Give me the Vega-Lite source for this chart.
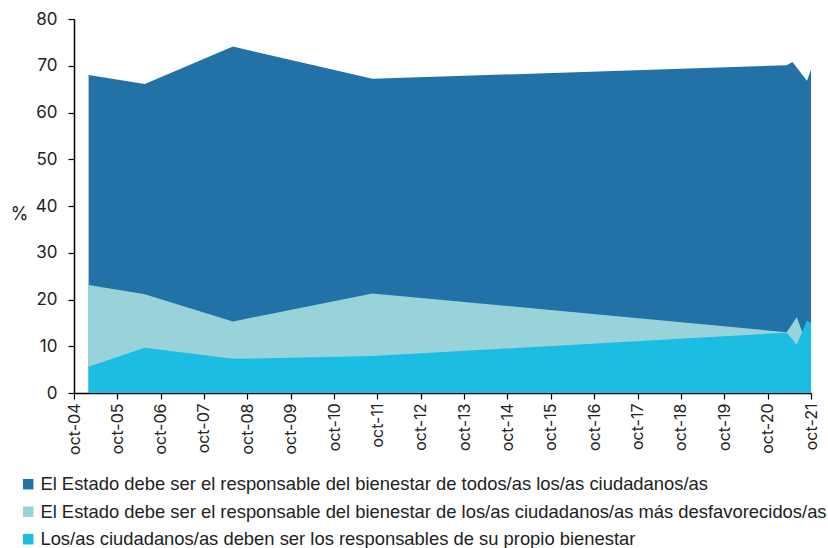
{
  "$schema": "https://vega.github.io/schema/vega-lite/v6.json",
  "width": 737,
  "height": 374,
  "autosize": {"type": "none"},
  "padding": {"left": 74, "top": 19, "right": 17, "bottom": 155},
  "config": {"view": {"stroke": null}, "font": "Inter", "background": "white"},
  "data": {
    "values": [
      {"serie": "El Estado debe ser el responsable del bienestar de todos/as los/as ciudadanos/as", "fecha": "2005-02-01", "valor": 68.0},
      {"serie": "El Estado debe ser el responsable del bienestar de todos/as los/as ciudadanos/as", "fecha": "2006-05-20", "valor": 66.1},
      {"serie": "El Estado debe ser el responsable del bienestar de todos/as los/as ciudadanos/as", "fecha": "2008-06-01", "valor": 74.1},
      {"serie": "El Estado debe ser el responsable del bienestar de todos/as los/as ciudadanos/as", "fecha": "2011-08-20", "valor": 67.2},
      {"serie": "El Estado debe ser el responsable del bienestar de todos/as los/as ciudadanos/as", "fecha": "2021-03-10", "valor": 70.1},
      {"serie": "El Estado debe ser el responsable del bienestar de todos/as los/as ciudadanos/as", "fecha": "2021-04-28", "valor": 70.8},
      {"serie": "El Estado debe ser el responsable del bienestar de todos/as los/as ciudadanos/as", "fecha": "2021-08-28", "valor": 66.8},
      {"serie": "El Estado debe ser el responsable del bienestar de todos/as los/as ciudadanos/as", "fecha": "2021-10-01", "valor": 69.2},
      {"serie": "El Estado debe ser el responsable del bienestar de los/as ciudadanos/as más desfavorecidos/as", "fecha": "2005-02-01", "valor": 23.1},
      {"serie": "El Estado debe ser el responsable del bienestar de los/as ciudadanos/as más desfavorecidos/as", "fecha": "2006-05-20", "valor": 21.1},
      {"serie": "El Estado debe ser el responsable del bienestar de los/as ciudadanos/as más desfavorecidos/as", "fecha": "2008-06-01", "valor": 15.3},
      {"serie": "El Estado debe ser el responsable del bienestar de los/as ciudadanos/as más desfavorecidos/as", "fecha": "2011-08-20", "valor": 21.3},
      {"serie": "El Estado debe ser el responsable del bienestar de los/as ciudadanos/as más desfavorecidos/as", "fecha": "2021-03-10", "valor": 13.0},
      {"serie": "El Estado debe ser el responsable del bienestar de los/as ciudadanos/as más desfavorecidos/as", "fecha": "2021-06-03", "valor": 16.2},
      {"serie": "El Estado debe ser el responsable del bienestar de los/as ciudadanos/as más desfavorecidos/as", "fecha": "2021-08-28", "valor": 10.3},
      {"serie": "El Estado debe ser el responsable del bienestar de los/as ciudadanos/as más desfavorecidos/as", "fecha": "2021-10-01", "valor": 11.0},
      {"serie": "Los/as ciudadanos/as deben ser los responsables de su propio bienestar", "fecha": "2005-02-01", "valor": 5.6},
      {"serie": "Los/as ciudadanos/as deben ser los responsables de su propio bienestar", "fecha": "2006-05-20", "valor": 9.7},
      {"serie": "Los/as ciudadanos/as deben ser los responsables de su propio bienestar", "fecha": "2008-06-01", "valor": 7.3},
      {"serie": "Los/as ciudadanos/as deben ser los responsables de su propio bienestar", "fecha": "2011-08-20", "valor": 7.9},
      {"serie": "Los/as ciudadanos/as deben ser los responsables de su propio bienestar", "fecha": "2021-03-10", "valor": 12.9},
      {"serie": "Los/as ciudadanos/as deben ser los responsables de su propio bienestar", "fecha": "2021-06-03", "valor": 10.3},
      {"serie": "Los/as ciudadanos/as deben ser los responsables de su propio bienestar", "fecha": "2021-08-28", "valor": 15.5},
      {"serie": "Los/as ciudadanos/as deben ser los responsables de su propio bienestar", "fecha": "2021-10-01", "valor": 14.9}
    ]
  },
  "mark": {"type": "area", "opacity": 1, "interpolate": "linear"},
  "encoding": {
    "x": {
      "field": "fecha",
      "type": "temporal",
      "scale": {"domain": [{"year": 2004, "month": 10, "date": 1}, {"year": 2021, "month": 10, "date": 1}]},
      "axis": {
        "title": null,
        "grid": false,
        "values": [
          {"year": 2004, "month": 10, "date": 1}, {"year": 2005, "month": 10, "date": 1},
          {"year": 2006, "month": 10, "date": 1}, {"year": 2007, "month": 10, "date": 1},
          {"year": 2008, "month": 10, "date": 1}, {"year": 2009, "month": 10, "date": 1},
          {"year": 2010, "month": 10, "date": 1}, {"year": 2011, "month": 10, "date": 1},
          {"year": 2012, "month": 10, "date": 1}, {"year": 2013, "month": 10, "date": 1},
          {"year": 2014, "month": 10, "date": 1}, {"year": 2015, "month": 10, "date": 1},
          {"year": 2016, "month": 10, "date": 1}, {"year": 2017, "month": 10, "date": 1},
          {"year": 2018, "month": 10, "date": 1}, {"year": 2019, "month": 10, "date": 1},
          {"year": 2020, "month": 10, "date": 1}, {"year": 2021, "month": 10, "date": 1}
        ],
        "labelExpr": "'oct-' + timeFormat(datum.value, '%y')",
        "labelAngle": -90,
        "labelAlign": "right",
        "labelBaseline": "middle",
        "labelFontSize": 16,
        "labelColor": "#222222",
        "labelPadding": 4,
        "labelFlush": false,
        "labelOverlap": false,
        "domainColor": "#000000",
        "domainWidth": 1.5,
        "tickColor": "#000000",
        "tickSize": 6,
        "tickWidth": 1.2
      }
    },
    "y": {
      "field": "valor",
      "type": "quantitative",
      "stack": null,
      "scale": {"domain": [0, 80], "nice": false},
      "axis": {
        "title": "%",
        "titleAngle": 0,
        "titleX": -55,
        "titleY": 195,
        "titleAlign": "center",
        "titleBaseline": "middle",
        "titleFontSize": 18,
        "titleFontWeight": "normal",
        "titleColor": "#222222",
        "grid": false,
        "values": [0, 10, 20, 30, 40, 50, 60, 70, 80],
        "labelFontSize": 17,
        "labelColor": "#222222",
        "labelPadding": 11,
        "domainColor": "#000000",
        "domainWidth": 1.5,
        "tickColor": "#000000",
        "tickSize": 6,
        "tickWidth": 1.2
      }
    },
    "color": {
      "field": "serie",
      "type": "nominal",
      "scale": {
        "domain": [
          "El Estado debe ser el responsable del bienestar de todos/as los/as ciudadanos/as",
          "El Estado debe ser el responsable del bienestar de los/as ciudadanos/as más desfavorecidos/as",
          "Los/as ciudadanos/as deben ser los responsables de su propio bienestar"
        ],
        "range": ["#2272a7", "#98d3da", "#1cbde3"]
      },
      "legend": {
        "title": null,
        "orient": "none",
        "legendX": -55,
        "legendY": 456,
        "direction": "vertical",
        "symbolType": "square",
        "symbolSize": 110,
        "symbolStrokeWidth": 0,
        "labelFont": "Liberation Sans",
        "labelFontSize": 18.4,
        "labelColor": "#222222",
        "labelLimit": 1000,
        "labelOffset": 3,
        "rowPadding": 8.5
      }
    }
  }
}
